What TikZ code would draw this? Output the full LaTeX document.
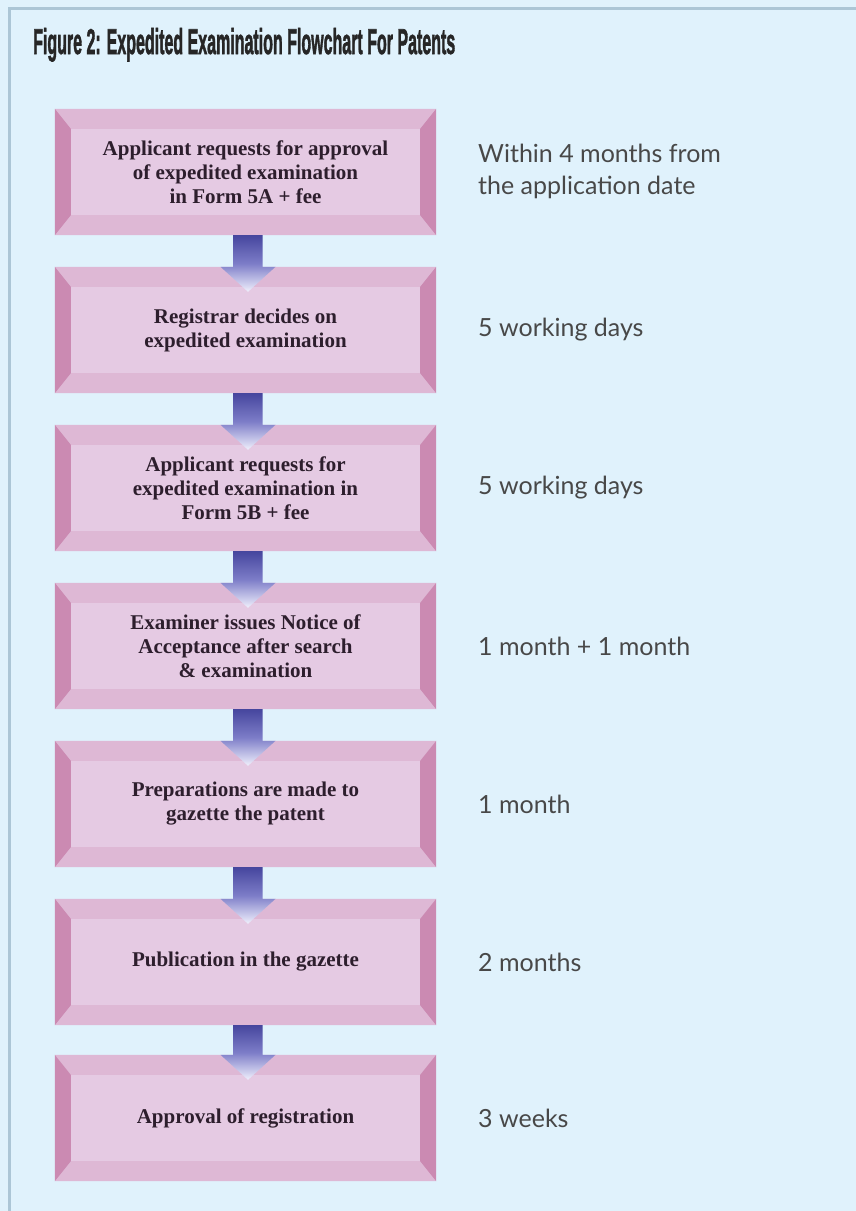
\documentclass[tikz,border=0pt]{standalone}
\usepackage{fontspec}
\setmainfont{Liberation Serif}
\newfontfamily\labfont{Lato}
\newfontfamily\ttlfont{Liberation Sans}[BoldFeatures={FakeBold=2}]
\usetikzlibrary{calc}
\definecolor{bgblue}{RGB}{224,242,252}
\definecolor{framecol}{RGB}{172,198,214}
\definecolor{faceC}{RGB}{229,202,227}
\definecolor{bevTB}{RGB}{222,184,213}
\definecolor{bevLR}{RGB}{203,138,178}
\definecolor{boxtext}{RGB}{45,30,45}
\definecolor{labtext}{RGB}{72,72,72}
\definecolor{arrTop}{RGB}{70,70,158}
\definecolor{arrMid}{RGB}{125,125,200}
\definecolor{arrBot}{RGB}{240,240,252}
\tikzset{
  stepbox/.style={rectangle, fill=faceC, minimum width=381pt, minimum height=126pt,
    inner sep=0pt, align=center, text=boxtext,
    font=\fontsize{21}{24}\selectfont\bfseries},
  timelabel/.style={anchor=west, align=left, text=labtext, inner sep=0pt,
    font=\labfont\fontsize{25}{32}\selectfont},
  arrowshade/.style={top color=arrTop, bottom color=arrBot, middle color=arrMid},
}
\begin{document}
\begin{tikzpicture}[x=1pt,y=-1pt]
\fill[bgblue] (0,0) rectangle (856,1211);
\useasboundingbox (0,0) rectangle (856,1211);
\draw[framecol, line width=3pt] (9,1211) -- (9,8) -- (856,8);

\node[anchor=base west, inner sep=0pt, text=black!85] (title) at (33,54)
  {\resizebox{422pt}{26pt}{\ttlfont\bfseries Figure 2: Expedited Examination Flowchart For Patents}};

\node[stepbox] (b1) at (245.5,172) {Applicant requests for approval\\of expedited examination\\in Form 5A + fee};
\node[stepbox] (b2) at (245.5,330) {Registrar decides on\\expedited examination};
\node[stepbox] (b3) at (245.5,488) {Applicant requests for\\expedited examination in\\Form 5B + fee};
\node[stepbox] (b4) at (245.5,646) {Examiner issues Notice of\\Acceptance after search\\\& examination};
\node[stepbox] (b5) at (245.5,804) {Preparations are made to\\gazette the patent};
\node[stepbox] (b6) at (245.5,962) {Publication in the gazette};
\node[stepbox] (b7) at (245.5,1118) {Approval of registration};

\foreach \i in {1,...,7}{
  \fill[bevTB] (b\i.north west) -- (b\i.north east) -- ([shift={(-16,20)}]b\i.north east) -- ([shift={(16,20)}]b\i.north west) -- cycle;
  \fill[bevTB] (b\i.south west) -- (b\i.south east) -- ([shift={(-16,-20)}]b\i.south east) -- ([shift={(16,-20)}]b\i.south west) -- cycle;
  \fill[bevLR] (b\i.north west) -- ([shift={(16,20)}]b\i.north west) -- ([shift={(16,-20)}]b\i.south west) -- (b\i.south west) -- cycle;
  \fill[bevLR] (b\i.north east) -- ([shift={(-16,20)}]b\i.north east) -- ([shift={(-16,-20)}]b\i.south east) -- (b\i.south east) -- cycle;
}

\node[timelabel] (t1) at (478,171) {Within 4 months from\\the application date};
\node[timelabel] (t2) at (478,330) {5 working days};
\node[timelabel] (t3) at (478,488) {5 working days};
\node[timelabel] (t4) at (478,646) {1 month + 1 month};
\node[timelabel] (t5) at (478,804) {1 month};
\node[timelabel] (t6) at (478,962) {2 months};
\node[timelabel] (t7) at (478,1118) {3 weeks};

\foreach \a/\b in {b1/b2,b2/b3,b3/b4,b4/b5,b5/b6,b6/b7}{
  \shade[arrowshade] ([xshift=-12.5pt]\a.south) -- ([xshift=17pt]\a.south)
    -- ([xshift=17pt]\b.north) -- ([xshift=30pt]\b.north)
    -- ([shift={(2.5,25)}]\b.north) -- ([xshift=-25pt]\b.north)
    -- ([xshift=-12.5pt]\b.north) -- cycle;
}
\end{tikzpicture}
\end{document}
